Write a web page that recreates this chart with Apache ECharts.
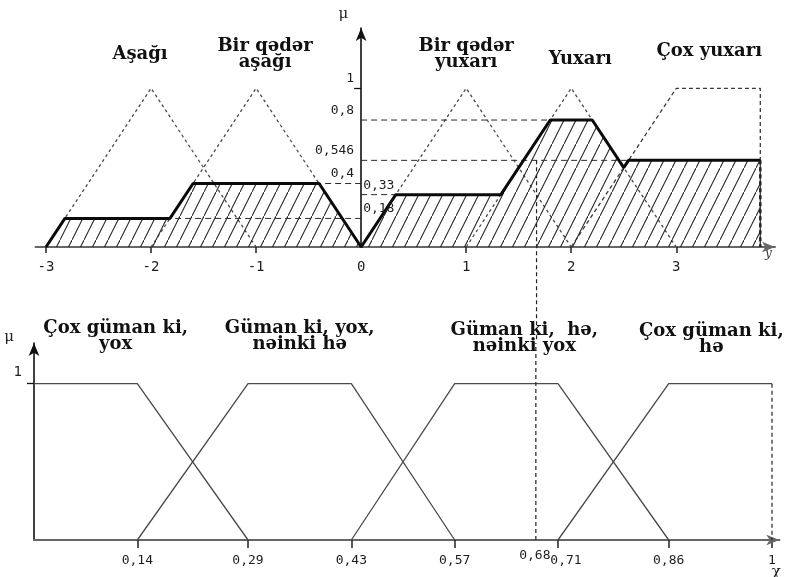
<!DOCTYPE html>
<html>
<head>
<meta charset="utf-8">
<script src="https://cdn.jsdelivr.net/npm/echarts@6/dist/echarts.min.js"></script>
<style>
  html, body { margin: 0; padding: 0; background: #fff; }
  #chart { width: 787px; height: 577px; }
</style>
</head>
<body>
<div id="chart"></div>
<script>
// ---------- Upper panel: linguistic terms of y ----------
const upperTermNames = ['Aşağı', 'Bir qədər\naşağı', 'Bir qədər\nyuxarı', 'Yuxarı', 'Çox yuxarı'];
const termAsagi          = [[-3, 0], [-2, 1], [-1, 0]];
const termBirQederAsagi  = [[-2, 0], [-1, 1], [0, 0]];
const termBirQederYuxari = [[0, 0], [1, 1], [2, 0]];
const termYuxari         = [[1, 0], [2, 1], [3, 0]];
const termCoxYuxari      = [[2, 0], [3, 1], [3.8, 1], [3.8, 0]];
const upperTermAnchors   = [[-2, 1], [-1, 1], [1, 1], [2, 1], [3.4, 1]];

// clipped membership (cut levels 0,18 / 0,4 / 0,33 / 0,8 / 0,546)
const aggregate = [
  [-3, 0], [-2.82, 0.18], [-1.82, 0.18], [-1.6, 0.4], [-0.4, 0.4], [0, 0],
  [0.33, 0.33], [1.33, 0.33], [1.8, 0.8], [2.2, 0.8], [2.5, 0.5],
  [2.546, 0.546], [3.8, 0.546]
];
const aggregateEdge = [[3.8, 0.546], [3.8, 0]];

// dashed guides from the μ axis to the cut levels
const upperGuides = [
  [[0, 0.8], [1.8, 0.8]],
  [[0, 0.546], [2.546, 0.546]],
  [[0, 0.4], [-0.4, 0.4]],
  [[0, 0.18], [-1.82, 0.18]],
  [[0, 0.33], [0.33, 0.33]]
];
const upperXLabels = [-3, -2, -1, 0, 1, 2, 3];
const upperXTicks = [-3, -2, -1, 1, 2, 3];
const upperMuLabelsLeft = [1, 0.8, 0.546, 0.4];
const upperMuLabelsRight = [0.33, 0.18];
const resultY = 1.67;

// ---------- Lower panel: linguistic terms of χ ----------
const lowerTermNames = ['Çox güman ki,\nyox', 'Güman ki, yox,\nnəinki hə', 'Güman ki,  hə,\nnəinki yox', 'Çox güman ki,\nhə'];
const setCoxYox = [[0, 1], [0.14, 1], [0.29, 0]];
const setYox    = [[0.14, 0], [0.29, 1], [0.43, 1], [0.57, 0]];
const setHe     = [[0.43, 0], [0.57, 1], [0.71, 1], [0.86, 0]];
const setCoxHe  = [[0.71, 0], [0.86, 1], [1, 1]];
const setCoxHeEdge = [[1, 1], [1, 0]];
const lowerTermAnchors = [[0.07, 1], [0.36, 1], [0.64, 1], [0.93, 1]];
const lowerXLabels = [0.14, 0.29, 0.43, 0.57, 0.71, 0.86, 1];
const lowerXTicks = [0.14, 0.29, 0.43, 0.57, 0.71, 0.86, 1];
const resultChi = 0.68;

// ---------- helpers ----------
const comma = v => String(+(+v).toFixed(3)).replace('.', ',');
const monoFont = 'DejaVu Sans Mono';
const serifFont = 'DejaVu Serif';
const ink = '#111';

function hatchTile() {
  const c = document.createElement('canvas');
  c.width = 12; c.height = 24;
  const g = c.getContext('2d');
  g.strokeStyle = '#2b2b2b';
  g.lineWidth = 1.1;
  g.beginPath();
  g.moveTo(-1, 26);
  g.lineTo(13, -2);
  g.stroke();
  return c;
}

function lineSeries(data, xi, yi, style, extra) {
  return Object.assign({
    type: 'line',
    xAxisIndex: xi,
    yAxisIndex: yi,
    data: data,
    symbol: 'none',
    silent: true,
    lineStyle: style
  }, extra || {});
}

// text-only markers placed on data coordinates
function textSeries(xi, yi, items) {
  return {
    type: 'scatter', xAxisIndex: xi, yAxisIndex: yi,
    symbolSize: 0, silent: true, clip: false, z: 6,
    itemStyle: { opacity: 1 },
    data: items
  };
}

const dotted = { color: '#4a4a4a', width: 1.3, type: [3, 3] };
const guide = { color: '#2a2a2a', width: 1, type: [6, 4] };
const trapezoid = { color: '#4a4a4a', width: 1.3 };

const nameLabel = {
  show: true,
  position: 'top',
  formatter: p => p.name,
  fontFamily: serifFont,
  fontWeight: 'bold',
  fontSize: 18,
  lineHeight: 16,
  color: ink,
  opacity: 1,
  align: 'center'
};
const tickText = { fontFamily: monoFont, fontSize: 13, color: '#1e1e1e', opacity: 1 };

const upperLabelPlacement = [
  { distance: 26, offset: [-11, 0] },
  { distance: 18, offset: [9, 0] },
  { distance: 18, offset: [0, 0] },
  { distance: 21, offset: [9, 0] },
  { distance: 29, offset: [-9, 0] }
];
const lowerLabelPlacement = [
  { distance: 31, offset: [30, 0] },
  { distance: 31, offset: [0, 0] },
  { distance: 29, offset: [18, 0] },
  { distance: 28, offset: [-9, 0] }
];

const series = [
  // upper panel
  lineSeries(aggregate, 0, 0, { color: '#0a0a0a', width: 3 }, {
    areaStyle: { color: { image: hatchTile(), repeat: 'repeat' }, opacity: 1 },
    z: 4
  }),
  lineSeries(aggregateEdge, 0, 0, { color: '#222', width: 2.5, type: [4, 3] }, { z: 4 }),
  lineSeries(termAsagi, 0, 0, dotted),
  lineSeries(termBirQederAsagi, 0, 0, dotted),
  lineSeries(termBirQederYuxari, 0, 0, dotted),
  lineSeries(termYuxari, 0, 0, dotted),
  lineSeries(termCoxYuxari, 0, 0, { color: '#3a3a3a', width: 1.3, type: [4, 3] }),
  ...upperGuides.map(g => lineSeries(g, 0, 0, guide)),
  lineSeries([[resultY, 0.546], [resultY, -0.6]], 0, 0, { color: '#222', width: 1.2, type: [4, 3] }, { clip: false }),
  textSeries(0, 0, upperTermAnchors.map((v, i) => ({
    name: upperTermNames[i], value: v,
    label: Object.assign({}, nameLabel, upperLabelPlacement[i])
  }))),
  // μ levels, left of the axis
  textSeries(0, 0, upperMuLabelsLeft.map(v => ({
    value: [0, v],
    label: Object.assign({
      show: true, formatter: comma(v), position: [-7, -3],
      align: 'right', verticalAlign: 'bottom'
    }, tickText)
  }))),
  // μ levels, right of the axis
  textSeries(0, 0, upperMuLabelsRight.map(v => ({
    value: [0, v],
    label: Object.assign({
      show: true, formatter: comma(v), position: [2, -3],
      align: 'left', verticalAlign: 'bottom'
    }, tickText)
  }))),

  // lower panel
  lineSeries(setCoxYox, 1, 1, trapezoid),
  lineSeries(setYox, 1, 1, trapezoid),
  lineSeries(setHe, 1, 1, trapezoid),
  lineSeries(setCoxHe, 1, 1, trapezoid),
  lineSeries(setCoxHeEdge, 1, 1, { color: '#222', width: 1.2, type: [4, 3] }),
  lineSeries([[resultChi, 0], [resultChi, 1.26]], 1, 1, { color: '#222', width: 1.2, type: [4, 3] }, { clip: false }),
  textSeries(1, 1, lowerTermAnchors.map((v, i) => ({
    name: lowerTermNames[i], value: v,
    label: Object.assign({}, nameLabel, lowerLabelPlacement[i])
  }))),
  // value of the result on the χ axis
  textSeries(1, 1, [{
    value: [resultChi, 0],
    label: Object.assign({
      show: true, formatter: comma(resultChi), position: [-1, 9],
      align: 'center', verticalAlign: 'top'
    }, tickText)
  }])
];

const arrowLine = (color, width) => ({
  show: true,
  symbol: ['none', 'arrow'],
  symbolSize: [8, 13],
  lineStyle: { color: color, width: width }
});

const option = {
  animation: false,
  backgroundColor: '#fff',
  grid: [
    { left: 35.5, right: 12, top: 28, bottom: 330, outerBoundsMode: 'none' },
    { left: 34, right: 7.6, top: 343, bottom: 37, outerBoundsMode: 'none' }
  ],
  xAxis: [
    {
      type: 'value', gridIndex: 0, min: -3.1, max: 3.94,
      axisLine: Object.assign(arrowLine('#666', 2), { onZero: true }),
      axisTick: { show: true, customValues: upperXTicks, length: 6, lineStyle: { color: '#222', width: 1.5 } },
      axisLabel: Object.assign({ customValues: upperXLabels, formatter: comma, margin: 13 }, tickText, { fontSize: 14 }),
      splitLine: { show: false },
      name: 'y', nameLocation: 'end', nameGap: -10, nameMoveOverlap: false,
      nameTextStyle: { fontFamily: serifFont, fontStyle: 'italic', fontSize: 12, color: '#333', verticalAlign: 'top', padding: [1, 0, 0, 0] }
    },
    {
      type: 'value', gridIndex: 1, min: 0, max: 1.01,
      axisLine: arrowLine('#666', 2),
      axisTick: { show: true, customValues: lowerXTicks, length: 8, lineStyle: { color: '#222', width: 1.5 } },
      axisLabel: Object.assign({
        customValues: lowerXLabels, margin: 14,
        formatter: v => Math.abs(v - 0.71) < 1e-6 ? '{r|' + comma(v) + '}' : comma(v),
        rich: { r: Object.assign({ padding: [0, 0, 0, 16] }, tickText) }
      }, tickText),
      splitLine: { show: false },
      name: 'χ', nameLocation: 'end', nameGap: -3, nameMoveOverlap: false,
      nameTextStyle: { fontFamily: serifFont, fontSize: 15, color: '#222', align: 'center', verticalAlign: 'top', padding: [25, 0, 0, 0] }
    }
  ],
  yAxis: [
    {
      type: 'value', gridIndex: 0, min: 0, max: 1.38, position: 'left',
      axisLine: Object.assign(arrowLine('#111', 1.6), { onZero: true, onZeroAxisIndex: 0 }),
      axisTick: { show: true, customValues: [1], length: 7, lineStyle: { color: '#111', width: 1.3 } },
      axisLabel: { show: false },
      splitLine: { show: false },
      name: 'μ', nameLocation: 'end', nameGap: 6, nameMoveOverlap: false,
      nameTextStyle: { fontFamily: serifFont, fontSize: 15, color: '#222', align: 'right', padding: [0, 13, 0, 0] }
    },
    {
      type: 'value', gridIndex: 1, min: 0, max: 1.26,
      axisLine: arrowLine('#111', 1.6),
      axisTick: { show: true, customValues: [1], length: 7, lineStyle: { color: '#111', width: 1.3 } },
      axisLabel: Object.assign({
        customValues: [1], formatter: comma, margin: 12,
        verticalAlign: 'bottom', padding: [0, 0, 4, 0]
      }, tickText, { fontSize: 14 }),
      splitLine: { show: false },
      name: 'μ', nameLocation: 'end', nameGap: -2, nameMoveOverlap: false,
      nameTextStyle: { fontFamily: serifFont, fontSize: 15, color: '#222', align: 'right', padding: [0, 20, 0, 0] }
    }
  ],
  series: series
};

const chart = echarts.init(document.getElementById('chart'), null, { renderer: 'canvas' });
chart.setOption(option);
</script>
</body>
</html>
